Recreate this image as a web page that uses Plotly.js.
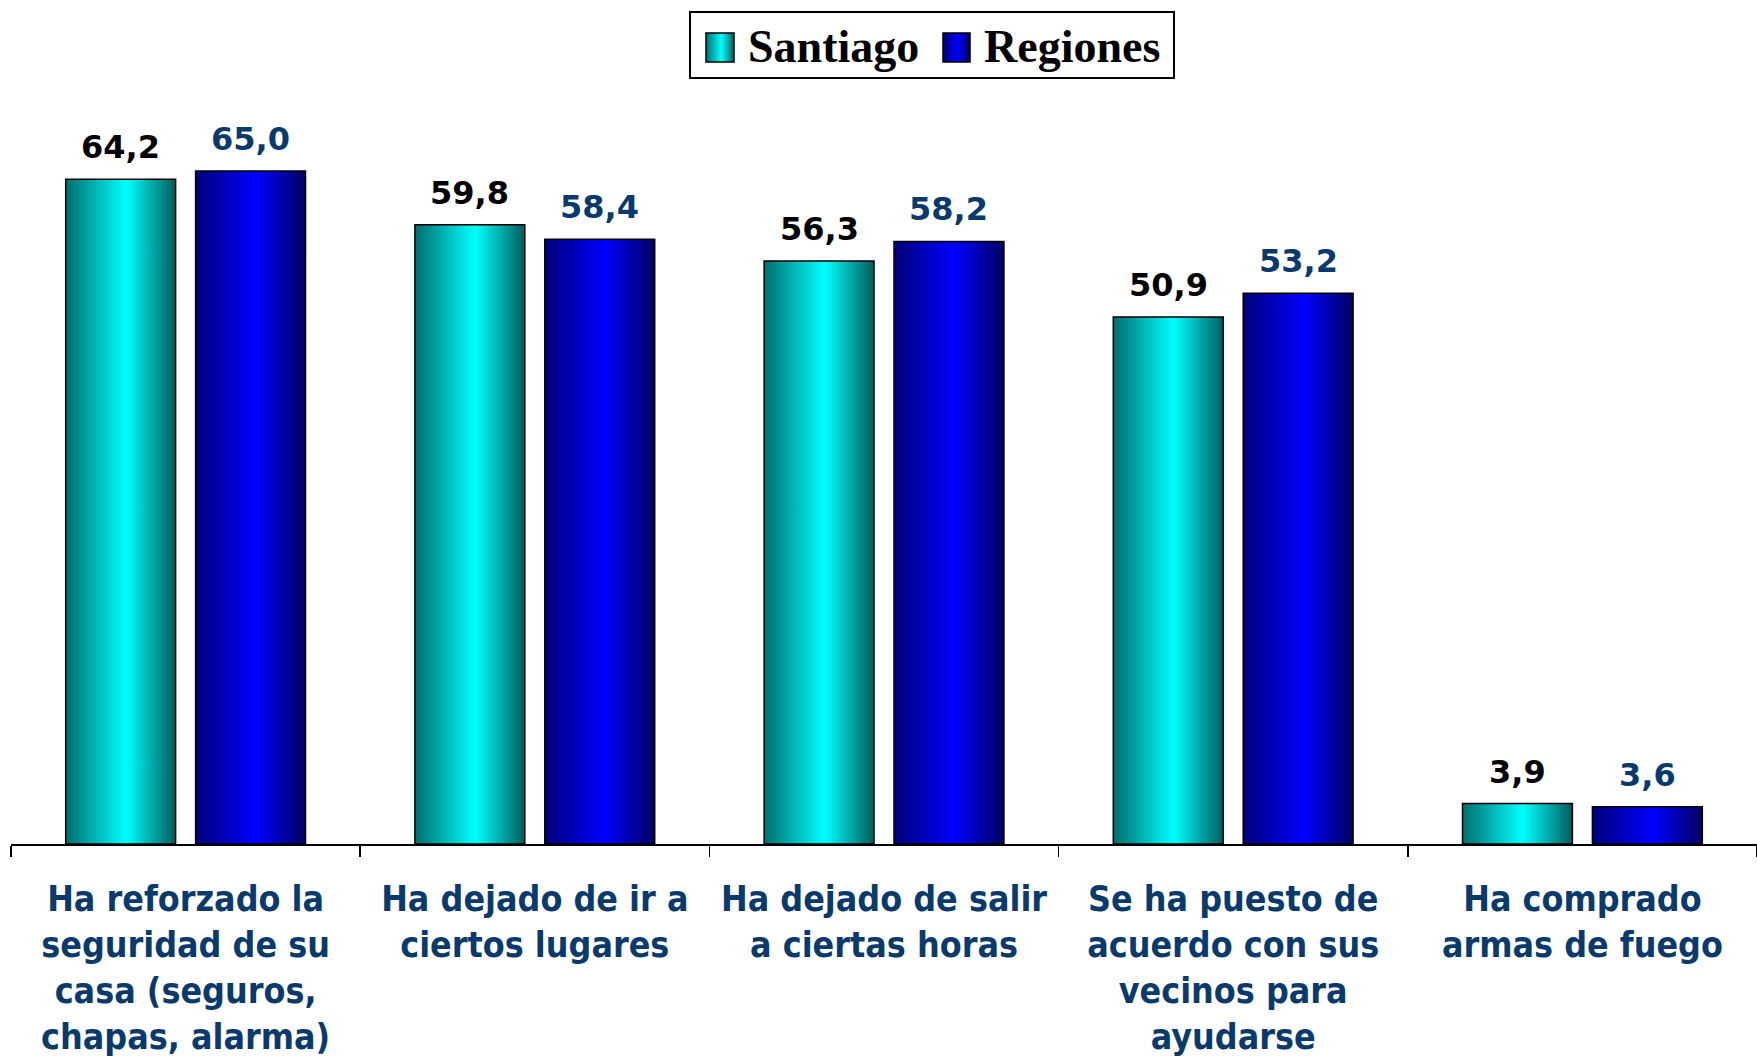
<!DOCTYPE html>
<html>
<head>
<meta charset="utf-8">
<script src="https://cdn.plot.ly/plotly-3.0.1.min.js"></script>
<style>html,body{margin:0;padding:0;background:#fff;}#chart{width:1757px;height:1057px;}</style>
</head>
<body>
<div id="chart"></div>
<script>
const categories = [
  "Ha reforzado la<br>seguridad de su<br>casa (seguros,<br>chapas, alarma)",
  "Ha dejado de ir a<br>ciertos lugares",
  "Ha dejado de salir<br>a ciertas horas",
  "Se ha puesto de<br>acuerdo con sus<br>vecinos para<br>ayudarse",
  "Ha comprado<br>armas de fuego"
];
const santiago = [64.2, 59.8, 56.3, 50.9, 3.9];
const regiones = [65.0, 58.4, 58.2, 53.2, 3.6];
const seriesNames = ["Santiago", "Regiones"];

const W = 1757, H = 1057;
const plotL = 11, plotR = 1757, plotTop = 98.5, plotBot = 844;
const bargap = 0.256, bargroupgap = 0.154;
const catW = (plotR - plotL) / categories.length;
const slot = catW * (1 - bargap) / 2;

const px = x => x / W;
const py = y => (H - y) / H;

const valFamily = "DejaVu Sans, Verdana, sans-serif";
const fmt = v => v.toFixed(1).replace(".", ",");

const annotations = [];
santiago.forEach((v, i) => annotations.push({
  x: categories[i], y: v, xref: "x", yref: "y", text: fmt(v), showarrow: false,
  xshift: -slot / 2, yshift: 32, yanchor: "middle",
  font: {family: valFamily, size: 32, color: "#000000", weight: "bold"}
}));
regiones.forEach((v, i) => annotations.push({
  x: categories[i], y: v, xref: "x", yref: "y", text: fmt(v), showarrow: false,
  xshift: slot / 2, yshift: 32, yanchor: "middle",
  font: {family: valFamily, size: 32, color: "#0a3a6b", weight: "bold"}
}));
// legend texts
annotations.push({x: px(746), y: py(47), xref: "paper", yref: "paper", xanchor: "left", yanchor: "middle",
  text: "<b>" + seriesNames[0] + "</b>", showarrow: false,
  font: {family: "Liberation Serif, Times New Roman, serif", size: 46, color: "#000"}});
annotations.push({x: px(982), y: py(47), xref: "paper", yref: "paper", xanchor: "left", yanchor: "middle",
  text: "<b>" + seriesNames[1] + "</b>", showarrow: false,
  font: {family: "Liberation Serif, Times New Roman, serif", size: 46, color: "#000"}});

const shapes = [
  {type: "rect", xref: "paper", yref: "paper", x0: px(690), x1: px(1174), y0: py(78), y1: py(12),
   line: {color: "#000", width: 2}, fillcolor: "#fff"},
  {type: "rect", xref: "paper", yref: "paper", x0: px(706), x1: px(734), y0: py(62), y1: py(33),
   line: {color: "#000", width: 1.5}, fillcolor: "#00e0e0"},
  {type: "rect", xref: "paper", yref: "paper", x0: px(943), x1: px(970), y0: py(62), y1: py(33),
   line: {color: "#000", width: 1.5}, fillcolor: "#0000e0"}
];

const traces = [
  {type: "bar", name: seriesNames[0], x: categories, y: santiago,
   marker: {color: "#00e0e0", line: {color: "#000", width: 1.5}}, hoverinfo: "none"},
  {type: "bar", name: seriesNames[1], x: categories, y: regiones,
   marker: {color: "#0000e0", line: {color: "#000", width: 1.5}}, hoverinfo: "none"}
];

const yMax = (plotBot - plotTop) / 10.354;

const layout = {
  width: W, height: H,
  margin: {l: 0, r: 0, t: 0, b: 0},
  paper_bgcolor: "#fff", plot_bgcolor: "rgba(0,0,0,0)",
  showlegend: false,
  barmode: "group", bargap: bargap, bargroupgap: bargroupgap,
  xaxis: {
    domain: [px(plotL), 1],
    type: "category",
    showline: true, linecolor: "#000", linewidth: 2,
    ticks: "outside", ticklen: 11, tickwidth: 1.5, tickcolor: "#000",
    tickson: "boundaries",
    ticklabelstandoff: 22,
    tickfont: {family: "DejaVu Sans Condensed, DejaVu Sans", size: 35.5, color: "#0a3a6b", weight: "bold"},
    showgrid: false, zeroline: false, automargin: false, fixedrange: true
  },
  yaxis: {
    domain: [py(plotBot), py(plotTop)],
    range: [0, yMax],
    visible: false, showgrid: false, zeroline: false, fixedrange: true
  },
  annotations: annotations,
  shapes: shapes
};

function addGradients(gd) {
  const svg = gd.querySelector(".main-svg");
  const ns = "http://www.w3.org/2000/svg";
  let defs = svg.querySelector("defs");
  if (!defs) { defs = document.createElementNS(ns, "defs"); svg.insertBefore(defs, svg.firstChild); }
  const mk = (id, stops) => {
    const g = document.createElementNS(ns, "linearGradient");
    g.setAttribute("id", id);
    g.setAttribute("x1", "0"); g.setAttribute("x2", "1"); g.setAttribute("y1", "0"); g.setAttribute("y2", "0");
    stops.forEach(s => {
      const st = document.createElementNS(ns, "stop");
      st.setAttribute("offset", s[0]); st.setAttribute("stop-color", s[1]);
      g.appendChild(st);
    });
    defs.appendChild(g);
  };
  mk("gradS", [["0", "#006e6e"], ["0.55", "#00ffff"], ["1", "#005c5c"]]);
  mk("gradR", [["0", "#000078"], ["0.55", "#0000ff"], ["1", "#000060"]]);
  const tr = gd.querySelectorAll(".barlayer .trace");
  tr.forEach((t, i) => {
    t.querySelectorAll("path").forEach(p => { p.style.fill = i === 0 ? "url(#gradS)" : "url(#gradR)"; });
  });
  const sp = gd.querySelectorAll(".shapelayer path");
  if (sp.length >= 3) {
    sp[1].style.fill = "url(#gradS)";
    sp[2].style.fill = "url(#gradR)";
  }
}

Plotly.newPlot("chart", traces, layout, {staticPlot: true, displayModeBar: false}).then(addGradients);
</script>
</body>
</html>
